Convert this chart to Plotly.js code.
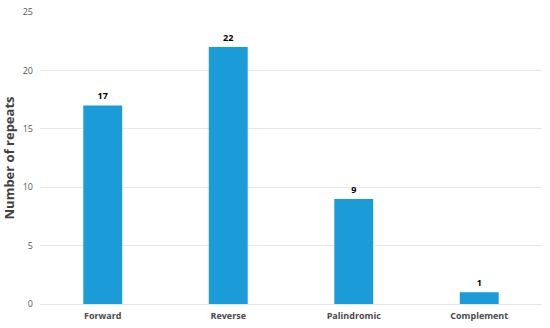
<!DOCTYPE html>
<html><head><meta charset="utf-8">
<script src="https://cdn.plot.ly/plotly-3.0.1.min.js"></script>
<style>html,body{margin:0;padding:0;background:#fff}#c{width:550px;height:328px}</style>
</head><body><div id="c"></div>
<script>
const categories = ["Forward", "Reverse", "Palindromic", "Complement"];
const repeats = [17, 22, 9, 1];
const yTicks = [0, 5, 10, 15, 20, 25];

Plotly.newPlot('c', [{
  type: 'bar',
  x: categories,
  y: repeats,
  text: repeats.map(String),
  textposition: 'outside',
  cliponaxis: false,
  textfont: {family: 'Open Sans', size: 9, color: '#000', weight: 'bold'},
  marker: {color: '#1b9bd7'},
  width: 0.31,
  hoverinfo: 'none'
}], {
  width: 550, height: 328,
  margin: {l: 40, r: 8, t: 12, b: 24},
  paper_bgcolor: '#fff', plot_bgcolor: '#fff',
  showlegend: false,
  xaxis: {
    tickfont: {family: 'Open Sans', size: 9, color: '#4a4a4a', weight: 'bold'},
    showgrid: false, zeroline: false, showline: false, ticks: '',
    ticklabelstandoff: 5
  },
  yaxis: {
    range: [0, 25],
    tickvals: yTicks,
    tickfont: {family: 'Open Sans', size: 9, color: '#595959'},
    gridcolor: '#e6e6e6', gridwidth: 1,
    zeroline: true, zerolinecolor: '#e6e6e6',
    ticks: '', ticklen: 0,
    ticklabelstandoff: 6,
    title: {text: 'Number of repeats', font: {family: 'Open Sans', size: 13, color: '#404040', weight: 'bold'}, standoff: 8}
  }
}, {displayModeBar: false, staticPlot: true});
</script></body></html>
